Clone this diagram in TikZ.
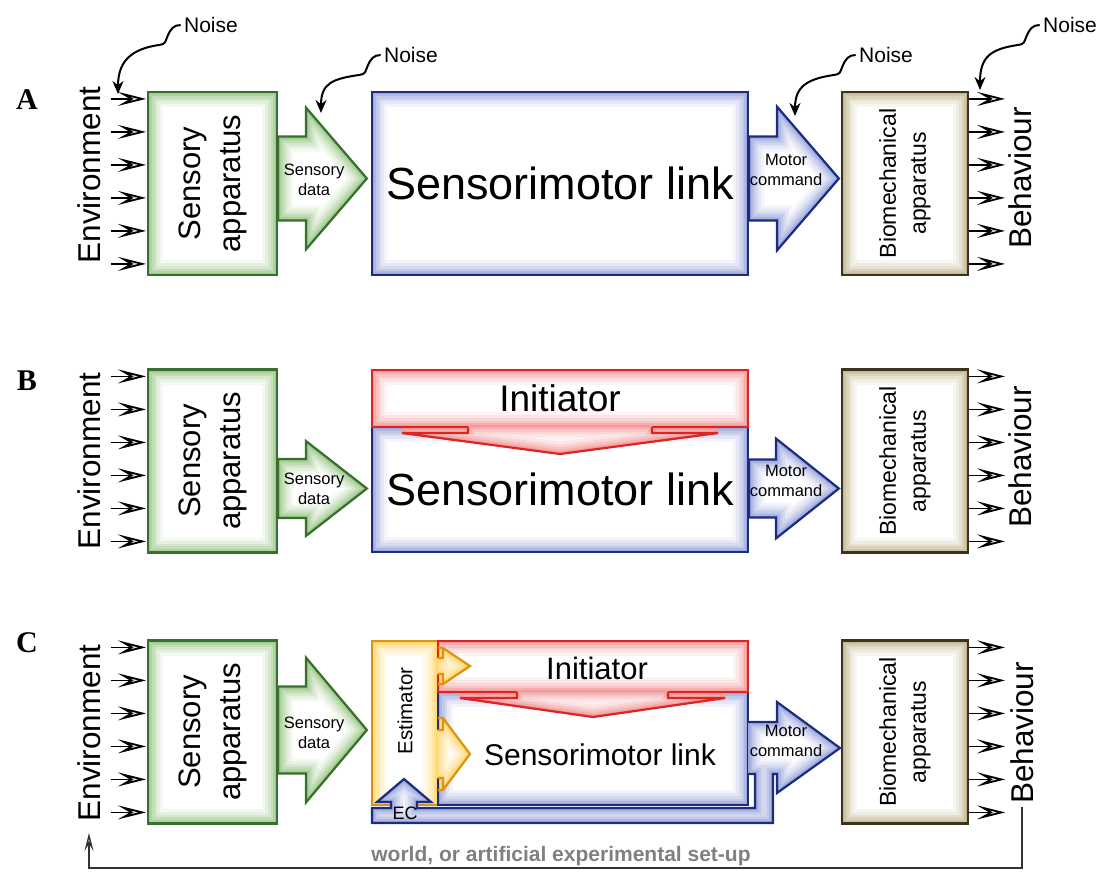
\documentclass[tikz,border=0pt]{standalone}
\usepackage{fontspec}
\setmainfont{Liberation Sans}
\newfontfamily\labelfont{Liberation Serif}
\usetikzlibrary{positioning,calc,arrows.meta}

\definecolor{grnline}{HTML}{37702C}
\definecolor{grnglow}{HTML}{6FB052}
\definecolor{bluline}{HTML}{1C2C82}
\definecolor{bluglow}{HTML}{6A7ECC}
\definecolor{brnline}{HTML}{3A3320}
\definecolor{brnglow}{HTML}{A8955A}
\definecolor{redline}{HTML}{DD2424}
\definecolor{redglow}{HTML}{EE6A6A}
\definecolor{ornline}{HTML}{DC9410}
\definecolor{ornglow}{HTML}{FFC62A}

% white fill with a soft coloured rim inside an outline
\newcommand\glowpoly[2]{%
  \fill[white] #2;
  \begin{scope}
    \clip #2;
    \foreach \w/\o in {30/0.08,24/0.10,18/0.13,13/0.17,8/0.22,4/0.28}
      \draw[#1,line width=\w pt,opacity=\o,line join=miter] #2;
  \end{scope}}

% fat arrow: colour, glow, tail, tip, half shaft, half head, head length
\newcommand\fatarrow[7]{%
  \glowpoly{#2}{let \p1=(#3), \p2=(#4) in (\x1,\y1+#5pt) -- (\x2-#7pt,\y1+#5pt) -- (\x2-#7pt,\y1+#6pt) -- (\x2,\y1) -- (\x2-#7pt,\y1-#6pt) -- (\x2-#7pt,\y1-#5pt) -- (\x1,\y1-#5pt) -- cycle}
  \draw[#1,line width=2.2pt,line join=miter] let \p1=(#3), \p2=(#4) in (\x1,\y1+#5pt) -- (\x2-#7pt,\y1+#5pt) -- (\x2-#7pt,\y1+#6pt) -- (\x2,\y1) -- (\x2-#7pt,\y1-#6pt) -- (\x2-#7pt,\y1-#5pt) -- (\x1,\y1-#5pt) -- cycle;}

\begin{document}
\begin{tikzpicture}[x=1pt,y=-1pt,
    glowbox/.style 2 args={draw=#1,line width=2.2pt,fill=white,path picture={
      \foreach \w/\o in {30/0.08,24/0.10,18/0.13,13/0.17,8/0.22,4/0.28}
        \draw[#2,line width=\w pt,opacity=\o] (path picture bounding box.south west) rectangle (path picture bounding box.north east);}},
    sens/.style={glowbox={grnline}{grnglow},minimum width=129pt,minimum height=183pt},
    link/.style={glowbox={bluline}{bluglow}},
    bio/.style={glowbox={brnline}{brnglow},minimum width=126pt,minimum height=183pt},
    init/.style={glowbox={redline}{redglow}},
    est/.style={glowbox={ornline}{ornglow}},
    tagtxt/.style={font=\fontsize{30}{30}\selectfont\labelfont\bfseries},
    sidetxt/.style={rotate=90,font=\fontsize{31.5}{36}\selectfont},
    senstxt/.style={rotate=90,align=center,font=\fontsize{31}{40}\selectfont},
    biotxt/.style={rotate=90,align=center,font=\fontsize{23}{30}\selectfont},
    bigtxt/.style={font=\fontsize{45}{50}\selectfont},
    smalltxt/.style={align=center,font=\fontsize{16.5}{20}\selectfont},
    noisetxt/.style={font=\fontsize{21}{24}\selectfont},
    feather/.style={line width=1.8pt,-{Stealth[length=28pt,width=14pt,inset=12pt,fill=black!10]}},
    noisy/.style={line width=2pt,-{Stealth[length=13pt,width=11pt]}},
    loopline/.style={line width=1.4pt,black!80,-{Stealth[length=18pt,width=9pt,inset=7pt,fill=black!10]}}
  ]
  \useasboundingbox (0,0) rectangle (1101,871);

  % ---- A ----
  \node[tagtxt] (labA) at (27,100) {A};
  \node[sidetxt] (envA) at (89,175) {Environment};
  \node[sens] (sensA) at (212.5,183.5) {};
  \node[senstxt] (sensAt) at (sensA) {Sensory\\apparatus};
  \node[link,minimum width=376pt,minimum height=183pt,bigtxt] (linkA) at (560,183.5) {Sensorimotor link};
  \node[bio] (bioA) at (905,183.5) {};
  \node[biotxt] (bioAt) at (bioA) {Biomechanical\\apparatus};
  \node[sidetxt] (behA) at (1020,178) {Behaviour};
  \fatarrow{grnline}{grnglow}{$(sensA.east)+(0,-5)$}{$(linkA.west)+(-4,0)$}{42}{71}{61}
  \node[smalltxt] (sdA) at ($(sensA.east)+(36,-4)$) {Sensory\\data};
  \fatarrow{bluline}{bluglow}{$(linkA.east)+(0,-5)$}{$(bioA.west)+(-2,0)$}{42}{72}{62}
  \node[smalltxt] (mcA) at ($(linkA.east)+(37,-14)$) {Motor\\command};

  % ---- B ----
  \node[tagtxt] (labB) at (27,381) {B};
  \node[sidetxt] (envB) at (89,461) {Environment};
  \node[sens] (sensB) at (212.5,461) {};
  \node[senstxt] (sensBt) at (sensB) {Sensory\\apparatus};
  \node[link,minimum width=376pt,minimum height=125pt,bigtxt] (linkB) at (560,489.5) {Sensorimotor link};
  \node[init,minimum width=376pt,minimum height=57pt,font=\fontsize{37}{40}\selectfont] (initB) at (560,398.5) {Initiator};
  \glowpoly{redglow}{(402,428) -- (468,428) -- (468,425) -- (652,425) -- (652,428) -- (718,428) -- (718,433) -- (560,454) -- (402,433) -- cycle}
  \draw[redline,line width=2.2pt] (468,427) -- (468,433) -- (402,433) -- (560,454) -- (718,433) -- (652,433) -- (652,427);
  \node[bio] (bioB) at (905,461) {};
  \node[biotxt] (bioBt) at (bioB) {Biomechanical\\apparatus};
  \node[sidetxt] (behB) at (1020,457) {Behaviour};
  \fatarrow{grnline}{grnglow}{$(sensB.east |- linkB.west)+(0,-1)$}{$(linkB.west)+(-4,0)$}{29.5}{47.5}{61}
  \node[smalltxt] (sdB) at ($(sensB.east |- linkB.west)+(36,-1)$) {Sensory\\data};
  \fatarrow{bluline}{bluglow}{$(linkB.east)+(0,-1)$}{$(bioB.west)+(-2,0)$}{29}{50}{63}
  \node[smalltxt] (mcB) at ($(linkB.east)+(37,-9)$) {Motor\\command};

  % ---- C ----
  \node[tagtxt] (labC) at (27,643) {C};
  \node[sidetxt] (envC) at (89,733) {Environment};
  \node[sens] (sensC) at (212.5,732) {};
  \node[senstxt] (sensCt) at (sensC) {Sensory\\apparatus};
  \node[est,minimum width=66pt,minimum height=164pt] (estC) at (405,723) {};
  \node[rotate=90,font=\fontsize{20.5}{24}\selectfont] (estCt) at (405,711) {Estimator};
  \node[link,minimum width=310pt,minimum height=113pt] (linkC) at (593,748.5) {};
  \node[init,minimum width=310pt,minimum height=51pt] (initC) at (593,666.5) {};
  \node[font=\fontsize{31}{34}\selectfont] (initCt) at (597,668) {Initiator};
  \glowpoly{redglow}{(460,693) -- (517,693) -- (517,690) -- (668,690) -- (668,693) -- (725,693) -- (725,698) -- (593,717) -- (460,698) -- cycle}
  \draw[redline,line width=2.2pt] (517,692) -- (517,698) -- (460,698) -- (593,717) -- (725,698) -- (668,698) -- (668,692);
  % estimator feeding initiator and link
  \glowpoly{ornglow}{(439.5,648) -- (443,648) -- (470,666) -- (443,684) -- (439.5,684) -- (439.5,674) -- (436,674) -- (436,658) -- (439.5,658) -- cycle}
  \draw[ornline,line width=2.2pt] (438,648) -- (443,648) -- (470,666) -- (443,684) -- (438,684)
    (438,658) -- (443,658) -- (443,648) (438,674) -- (443,674) -- (443,684);
  \glowpoly{ornglow}{(439.5,718) -- (443,718) -- (470,754) -- (443,790) -- (439.5,790) -- (439.5,778) -- (436,778) -- (436,730) -- (439.5,730) -- cycle}
  \draw[ornline,line width=2.2pt] (438,718) -- (443,718) -- (470,754) -- (443,790) -- (438,790)
    (438,730) -- (443,730) -- (443,718) (438,778) -- (443,778) -- (443,790);
  \node[font=\fontsize{30}{34}\selectfont] (linkCt) at (600,755) {Sensorimotor link};
  % motor command with efference copy back to the estimator
  \glowpoly{bluglow}{(748,722) -- (777,722) -- (777,702) -- (840,748) -- (777,793) -- (777,774) -- (773,774) -- (773,823) -- (372,823) -- (372,808) -- (391,808) -- (391,802) -- (377,802) -- (404,779) -- (431,802) -- (417,802) -- (417,808) -- (755,808) -- (755,774) -- (748,774) -- cycle}
  \draw[bluline,line width=2.2pt,line join=miter] (748,722) -- (777,722) -- (777,702) -- (840,748) -- (777,793) -- (777,774) -- (773,774) -- (773,823) -- (372,823) -- (372,808) -- (391,808) -- (391,802) -- (377,802) -- (404,779) -- (431,802) -- (417,802) -- (417,808) -- (755,808) -- (755,774) -- (748,774);
  \node[font=\fontsize{18}{20}\selectfont] (ecC) at (405,813) {EC};
  \fatarrow{grnline}{grnglow}{$(sensC.east)+(0,-2)$}{$(estC.west)+(-4,0)$}{43.5}{72.5}{61}
  \node[smalltxt] (sdC) at ($(sensC.east)+(36,1)$) {Sensory\\data};
  \node[smalltxt] (mcC) at (786,741) {Motor\\command};
  \node[bio] (bioC) at (905,732) {};
  \node[biotxt] (bioCt) at (bioC) {Biomechanical\\apparatus};
  \node[sidetxt] (behC) at (1022,733) {Behaviour};

  % closing the loop through the world
  \coordinate (fbC) at (1022,868);
  \draw[loopline,shorten >=8pt] (behC.west) -- (behC.west |- fbC) -| (envC.west);
  \node[font=\fontsize{21}{24}\selectfont\bfseries,text=black!50] (world) at (561,856) {world, or artificial experimental set-up};

  % inputs and outputs
  \foreach \r in {A,B,C}
    \foreach \i in {0,...,5} {
      \draw[feather] ($(sens\r.north west)+(-36,8+33*\i)$) -- ++(35,0);
      \draw[feather] ($(bio\r.north east)+(0,8+33*\i)$) -- ++(36,0);
    }

  % noise
  \node[noisetxt] (nsA1) at (211,25) {Noise};
  \node[noisetxt] (nsA2) at (411,55) {Noise};
  \node[noisetxt] (nsA3) at (886,55) {Noise};
  \node[noisetxt] (nsA4) at (1070,25) {Noise};
  \coordinate (tpA1) at (118,94);
  \coordinate (tpA2) at (321,113);
  \coordinate (tpA3) at (795,116);
  \coordinate (tpA4) at (980,90);
  \draw[noisy] (nsA1.west) .. controls +(-7,0) and +(3,-7) .. ++(-13,11) .. controls +(-3,7) and +(7,-1) .. ++(-9,9) .. controls +(-26,4) and +(0,-34) .. (tpA1);
  \draw[noisy] (nsA2.west) .. controls +(-7,0) and +(3,-7) .. ++(-13,11) .. controls +(-3,7) and +(7,-1) .. ++(-9,9) .. controls +(-26,4) and +(0,-30) .. (tpA2);
  \draw[noisy] (nsA3.west) .. controls +(-7,0) and +(3,-7) .. ++(-13,11) .. controls +(-3,7) and +(7,-1) .. ++(-9,9) .. controls +(-26,4) and +(0,-30) .. (tpA3);
  \draw[noisy] (nsA4.west) .. controls +(-7,0) and +(3,-7) .. ++(-13,11) .. controls +(-3,7) and +(7,-1) .. ++(-9,9) .. controls +(-26,4) and +(0,-34) .. (tpA4);
\end{tikzpicture}
\end{document}
